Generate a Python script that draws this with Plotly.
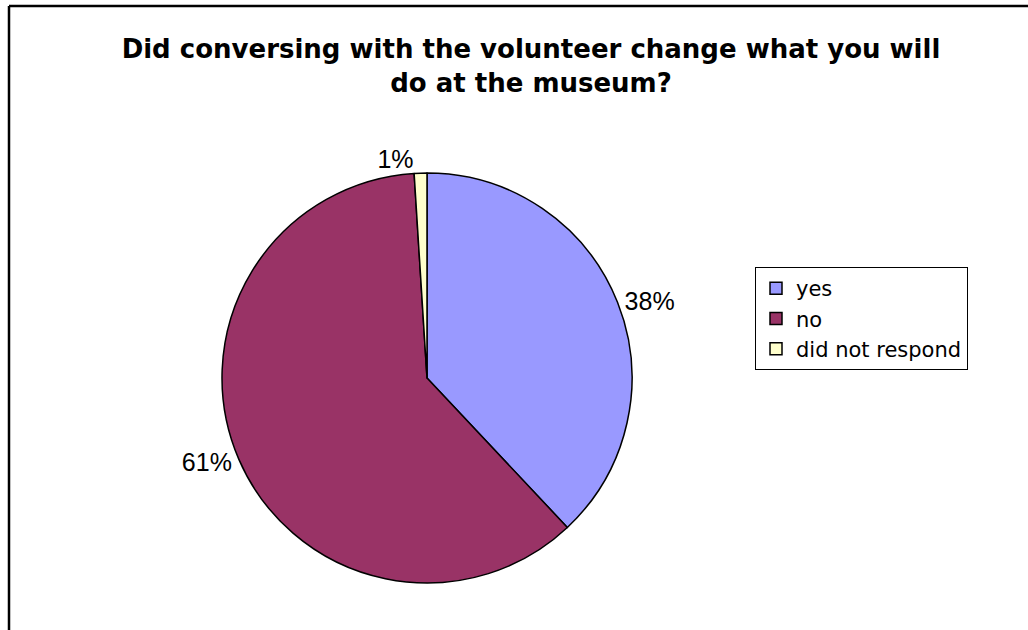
import plotly.graph_objects as go

W, H = 1028, 630

labels = ["yes", "no", "did not respond"]
values = [38, 61, 1]
colors = ["#9999FF", "#993366", "#FFFFCC"]
title_text = "Did conversing with the volunteer change what you will<br>do at the museum?"

def px_x(v):
    return v / W

def px_y(v):
    return 1 - v / H

fig = go.Figure()
fig.add_trace(go.Pie(
    labels=labels,
    values=values,
    sort=False,
    direction="clockwise",
    rotation=0,
    marker=dict(colors=colors, line=dict(color="black", width=1.5)),
    textposition="outside",
    texttemplate="%{percent:.0%}",
    textfont=dict(family="Liberation Sans, Arial, sans-serif", size=25, color="black"),
    domain=dict(x=[px_x(222), px_x(632)], y=[px_y(583), px_y(173)]),
    hoverinfo="label+percent",
))

fig.update_layout(
    width=W, height=H,
    margin=dict(l=0, r=0, t=0, b=0),
    paper_bgcolor="white",
    plot_bgcolor="white",
    title=dict(
        text="<b>" + title_text + "</b>",
        x=px_x(531), xanchor="center",
        y=px_y(58), yanchor="top", yref="paper",
        font=dict(family="DejaVu Sans, sans-serif", size=26, color="black"),
    ),
    legend=dict(
        x=px_x(755), y=px_y(267), xanchor="left", yanchor="top",
        bordercolor="black", borderwidth=1,
        font=dict(family="DejaVu Sans, sans-serif", size=21, color="black"),
        bgcolor="white",
    ),
    shapes=[
        dict(type="line", xref="paper", yref="paper",
             x0=px_x(9), x1=1.0, y0=px_y(6), y1=px_y(6),
             line=dict(color="black", width=2.5)),
        dict(type="line", xref="paper", yref="paper",
             x0=px_x(9), x1=px_x(9), y0=0.0, y1=px_y(6),
             line=dict(color="black", width=2.5)),
    ],
)

fig.write_html("out.html", config={"displayModeBar": False},
               post_script="document.body.style.margin='0';")
